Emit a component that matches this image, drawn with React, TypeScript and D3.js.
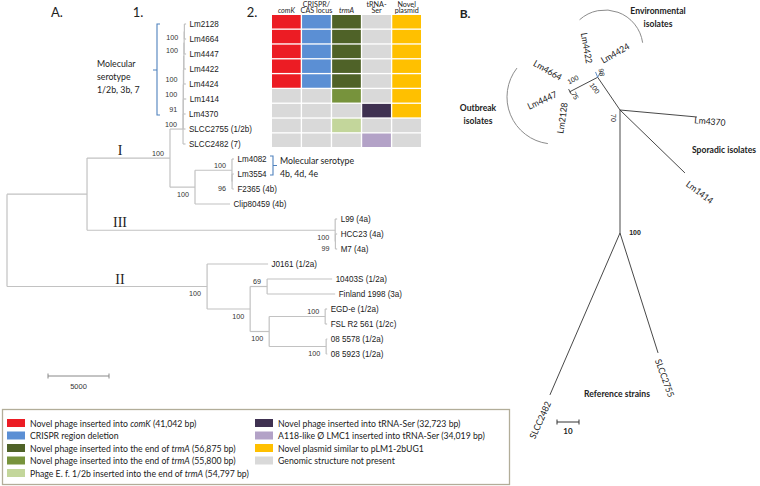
import React from "react";
import * as d3 from "d3";

const FONT_A = "'Liberation Sans', Arial, sans-serif";
const FONT_C = "Lato, 'Open Sans', sans-serif";
const FONT_S = "'Liberation Serif', 'DejaVu Serif', serif";

// ---------------- Panel A: tree [node, parent, branch length, bootstrap] ----------------
const treeNodes: [string, string, number, number | null][] = [
  ["root", "", 0, null],
  ["I_III", "root", 6560, null],
  ["I", "I_III", 6800, 100],
  ["n8", "I", 1070, 100],
  ["n7", "n8", 10, 91],
  ["n6", "n7", 10, 100],
  ["n5", "n6", 10, 100],
  ["n4", "n5", 20, null],
  ["n3", "n4", 20, 100],
  ["n2", "n3", 20, 100],
  ["n1", "n2", 20, null],
  ["Lm2128", "n1", 140, null],
  ["Lm4664", "n1", 140, null],
  ["Lm4447", "n2", 160, null],
  ["Lm4422", "n3", 170, null],
  ["Lm4424", "n4", 180, null],
  ["Lm1414", "n5", 230, null],
  ["Lm4370", "n6", 190, null],
  ["SLCC2755 (1/2b)", "n7", 190, null],
  ["SLCC2482 (7)", "n8", 200, null],
  ["m", "I", 2050, 100],
  ["m1", "m", 3030, 100],
  ["Lm4082", "m1", 160, null],
  ["m2", "m1", 10, 96],
  ["Lm3554", "m2", 150, null],
  ["F2365 (4b)", "m2", 150, null],
  ["Clip80459 (4b)", "m", 2870, null],
  ["III", "I_III", 20340, 100],
  ["L99 (4a)", "III", 160, null],
  ["m3", "III", 20, 99],
  ["HCC23 (4a)", "m3", 140, null],
  ["M7 (4a)", "m3", 140, null],
  ["II", "root", 16400, 100],
  ["J0161 (1/2a)", "II", 5000, null],
  ["p", "II", 3530, 100],
  ["p1", "p", 1390, 69],
  ["10403S (1/2a)", "p1", 5330, null],
  ["Finland 1998 (3a)", "p1", 5580, null],
  ["p2", "p", 1560, 100],
  ["p21", "p2", 4590, 100],
  ["EGD-e (1/2a)", "p21", 160, null],
  ["FSL R2 561 (1/2c)", "p21", 160, null],
  ["p22", "p2", 4670, 100],
  ["08 5578 (1/2a)", "p22", 100, null],
  ["08 5923 (1/2a)", "p22", 100, null],
];
const cladeNames = ["I", "III", "II"];
const scaleBarA = 5000;

// ---------------- Heatmap ----------------
const heatRows = ["Lm2128", "Lm4664", "Lm4447", "Lm4422", "Lm4424", "Lm1414", "Lm4370", "SLCC2755", "SLCC2482"];
const heatCols = ["comK", "CRISPR", "trmA", "tRNA", "plasmid"];
const heatHeaders: [string, string][] = [["", "comK"], ["CRISPR/", "CAS locus"], ["", "trmA"], ["tRNA-", "Ser"], ["Novel", "plasmid"]];
const heatItalic = [true, false, true, false, false];
const heatCells: string[][] = [
  ["comK", "crispr", "trmA56875", "none", "plasmid"],
  ["comK", "crispr", "trmA56875", "none", "plasmid"],
  ["comK", "crispr", "trmA56875", "none", "plasmid"],
  ["comK", "crispr", "trmA56875", "none", "plasmid"],
  ["comK", "crispr", "trmA56875", "none", "plasmid"],
  ["none", "none", "trmA55800", "none", "plasmid"],
  ["none", "none", "none", "tRNA32723", "plasmid"],
  ["none", "none", "trmA54797", "none", "none"],
  ["none", "none", "none", "tRNA34019", "none"],
];

// ---------------- Legend ----------------
const legendKeys = ["comK", "crispr", "trmA56875", "trmA55800", "trmA54797", "tRNA32723", "tRNA34019", "plasmid", "none"];
const legendLabels: [string, boolean][][] = [
  [["Novel phage inserted into ", false], ["comK", true], [" (41,042 bp)", false]],
  [["CRISPR region deletion", false]],
  [["Novel phage inserted into the end of ", false], ["trmA", true], [" (56,875 bp)", false]],
  [["Novel phage inserted into the end of ", false], ["trmA", true], [" (55,800 bp)", false]],
  [["Phage E. f. 1/2b inserted into the end of ", false], ["trmA", true], [" (54,797 bp)", false]],
  [["Novel phage inserted into tRNA-Ser (32,723 bp)", false]],
  [["A118-like Ø LMC1 inserted into tRNA-Ser (34,019 bp)", false]],
  [["Novel plasmid similar to pLM1-2bUG1", false]],
  [["Genomic structure not present", false]],
];
const palette = ["#ec1c24", "#5b8fd4", "#4f6228", "#77933c", "#c3d69b", "#3f3151", "#b3a2c7", "#ffc000", "#d9d9d9"];

// ---------------- Panel B: unrooted tree [node, parent, length, angle°] ----------------
const bTree: [string, string, number, number][] = [
  ["C1", "", 0, 0],
  ["C2", "C1", 55.9, 90],
  ["SLCC2482", "C2", 80.2, 113.4],
  ["SLCC2755", "C2", 57.2, 72.4],
  ["Lm4370", "C1", 35.1, 5.2],
  ["Lm1414", "C1", 41.1, 44.1],
  ["C3", "C1", 18, -124.3],
  ["C4", "C3", 14.2, 152.6],
  ["Lm4422", "C3", 2.6, -112],
  ["Lm4424", "C3", 2.6, -62],
  ["Lm4664", "C4", 1.3, 242],
  ["Lm2128", "C4", 1.3, 62],
  ["Lm4447", "C4", 0.3, 152],
];
const bSupport: [string, string][] = [["C4", "100"], ["C4", "75"], ["C3", "98"], ["C3", "100"], ["C1", "70"], ["C2", "100"]];
const bGroups: string[][] = [["Environmental", "isolates"], ["Outbreak", "isolates"], ["Sporadic isolates"], ["Reference strains"]];
const scaleBarB = 10;

// ---------------- layout (positions only) ----------------
const bOrigin = [620, 110];
const bLeafLabelPos: Record<string, [number, number, number]> = {
  Lm4422: [-8.6, -24, 80], Lm4424: [14.6, -19.3, -30], Lm4664: [-20.7, -19.2, 30], Lm4447: [-27.4, 8, -25],
  Lm2128: [-9.3, 23.8, -82], Lm4370: [13, 4, 5], Lm1414: [15, 19, 37], SLCC2482: [-10, 25, -66], SLCC2755: [7, 25, 70],
};
const bSupportPos: [number, number, number, boolean][] = [[3, -12, -27, false], [5, 4, 62, false], [4, -5, 80, false], [-3, 11, 55, false], [-7, 8, 90, false], [15, 0, 0, true]];
const bGroupPos: [number, number][] = [[658, 14], [478, 111], [724, 153], [617, 397]];
const bArcs = [
  { cx: 605, cy: 48, r: 38, a0: -132, a1: -8 },
  { cx: 554, cy: 97, r: 47, a0: 97.5, a1: 218 },
];

const Txt = ({ x, y, children, size = 9, family = FONT_A, anchor = "start", sx = 1, rot = 0, weight = "normal", italic = false, fill = "#222", baseline }: any) => (
  <text
    transform={`translate(${x},${y}) rotate(${rot}) scale(${sx},1)`}
    fontSize={size}
    fontFamily={family}
    textAnchor={anchor}
    fontWeight={weight}
    fontStyle={italic ? "italic" : "normal"}
    fill={fill}
    dominantBaseline={baseline}
  >
    {children}
  </text>
);

export default function App() {
  // ---- Panel A tree layout
  const root: any = d3
    .stratify<any>()
    .id((d: any) => d[0])
    .parentId((d: any) => (d[1] === "" ? null : d[1]))(treeNodes);
  const xA = d3.scaleLinear().domain([0, scaleBarA]).range([7, 68]);
  const leaves = root.leaves();
  const yA = d3.scaleLinear().domain([0, leaves.length - 1]).range([24, 354]);
  root.eachBefore((n: any) => {
    n.dist = n.parent ? n.parent.dist + n.data[2] : 0;
    n.px = xA(n.dist);
  });
  leaves.forEach((l: any, i: number) => (l.py = yA(i)));
  root.eachAfter((n: any) => {
    if (n.children) n.py = (n.children[0].py + n.children[n.children.length - 1].py) / 2;
  });
  const nodes: any[] = root.descendants();
  const treeStroke = "#c2c2c2";

  // ---- heatmap scales
  const hx = d3.scaleBand().domain(heatCols).range([272, 421]).paddingInner(0.045);
  const hy = d3.scaleBand().domain(heatRows).range([15, 147]).paddingInner(0.09);
  const color = d3.scaleOrdinal<string, string>().domain(legendKeys).range(palette);

  // ---- legend
  const ly = d3.scaleLinear().domain([0, 4]).range([423, 473]);

  // ---- Panel B
  const bs = d3.scaleLinear().domain([0, scaleBarB]).range([0, 22]);
  const bPos: Record<string, [number, number]> = {};
  bTree.forEach(([id, parent, len, ang]) => {
    if (!parent) bPos[id] = [bOrigin[0], bOrigin[1]];
    else {
      const [px, py] = bPos[parent];
      const a = (ang * Math.PI) / 180;
      bPos[id] = [px + bs(len) * Math.cos(a), py + bs(len) * Math.sin(a)];
    }
  });

  return (
    <div style={{ position: "absolute", left: 0, top: 0 }}>
      <svg width={760} height={486} style={{ display: "block", background: "#fff" }}>
        <rect width={760} height={486} fill="#fff" />
        {/* Panel titles */}
        <Txt x={57} y={17} size={13} family={FONT_C} anchor="middle">A.</Txt>
        <Txt x={138} y={17} size={13} family={FONT_C} anchor="middle">1.</Txt>
        <Txt x={252} y={17} size={13} family={FONT_C} anchor="middle">2.</Txt>
        <Txt x={465} y={18} size={12} family={FONT_C} anchor="middle" weight="bold">B.</Txt>

        {/* Tree A branches */}
        <g stroke={treeStroke} strokeWidth={1.2} fill="none">
          {nodes.filter((n) => n.parent).map((n, i) => (
            <line key={"h" + i} x1={n.parent.px} x2={n.px} y1={n.py} y2={n.py} />
          ))}
          {nodes.filter((n) => n.children).map((n, i) => (
            <line key={"v" + i} x1={n.px} x2={n.px} y1={n.children[0].py} y2={n.children[n.children.length - 1].py} />
          ))}
        </g>
        {/* leaf labels */}
        {leaves.map((l: any, i: number) => (
          <Txt key={"l" + i} x={l.px + 3.5} y={l.py + 3.2} size={8.8} sx={0.92} fill="#1a1a1a">{l.id}</Txt>
        ))}
        {/* bootstrap */}
        {nodes.filter((n) => n.data[3] != null).map((n, i) => {
          const first = n.parent.children[0] === n;
          return (
            <Txt key={"b" + i} x={n.px - 6} y={first ? n.py - 2.5 : n.py + 9.5} size={7.2} anchor="end" fill="#333">
              {n.data[3]}
            </Txt>
          );
        })}
        {/* clade labels */}
        {nodes.filter((n) => cladeNames.includes(n.id)).map((n, i) => (
          <Txt key={"c" + i} x={120} y={n.py - 3} size={14} family={FONT_S} anchor="middle" fill="#222">{n.id}</Txt>
        ))}
        {/* scale bar A */}
        <g stroke="#888" strokeWidth={1}>
          <line x1={xA(0) + 41} x2={xA(scaleBarA) + 41} y1={376} y2={376} />
          <line x1={xA(0) + 41} x2={xA(0) + 41} y1={373.5} y2={378.5} />
          <line x1={xA(scaleBarA) + 41} x2={xA(scaleBarA) + 41} y1={373.5} y2={378.5} />
        </g>
        <Txt x={(xA(0) + xA(scaleBarA)) / 2 + 41} y={389} size={7.5} anchor="middle" fill="#333">{scaleBarA}</Txt>

        {/* brackets */}
        <g stroke="#4f81bd" strokeWidth={1.1} fill="none">
          <path d="M160,24 H157 V115 H160 M157,70 H153" />
          <path d="M270,156 H273 V175 H270 M273,165.5 H277" />
        </g>
        <Txt x={97} y={67} size={10} family={FONT_C} sx={0.88}>Molecular</Txt>
        <Txt x={97} y={80} size={10} family={FONT_C} sx={0.88}>serotype</Txt>
        <Txt x={97} y={93} size={10} family={FONT_C} sx={0.88}>1/2b, 3b, 7</Txt>
        <Txt x={280} y={164} size={10} family={FONT_C} sx={0.88}>Molecular serotype</Txt>
        <Txt x={280} y={177} size={10} family={FONT_C} sx={0.88}>4b, 4d, 4e</Txt>

        {/* Heatmap */}
        {heatCells.map((row, ri) =>
          row.map((v, ci) => (
            <rect key={`h${ri}-${ci}`} x={hx(heatCols[ci])} y={hy(heatRows[ri])} width={hx.bandwidth()} height={hy.bandwidth()} fill={color(v)} />
          ))
        )}
        {heatHeaders.map(([a, b], ci) => {
          const cx = (hx(heatCols[ci]) as number) + hx.bandwidth() / 2;
          return (
            <g key={"hh" + ci}>
              {a && <Txt x={cx} y={6.6} size={7.8} family={FONT_C} anchor="middle" sx={0.92}>{a}</Txt>}
              <Txt x={cx} y={13.2} size={7.8} family={FONT_C} anchor="middle" sx={0.92} italic={heatItalic[ci]}>{b}</Txt>
            </g>
          );
        })}

        {/* Legend */}
        <rect x={2.5} y={409.5} width={507} height={75} fill="#fff" stroke="#b2ad99" strokeWidth={1.3} />
        {legendKeys.map((k, i) => {
          const col = i < 5 ? 0 : 1;
          const row = i < 5 ? i : i - 5;
          const x0 = col === 0 ? 7 : 255;
          const y0 = ly(row);
          return (
            <g key={"lg" + i}>
              <rect x={x0} y={y0 - 4} width={18} height={8} fill={color(k)} />
              <text transform={`translate(${x0 + 23},${y0 + 3.6}) scale(0.87,1)`} fontSize={10} fontFamily={FONT_C} fill="#222">
                {legendLabels[i].map(([s, it], j) => (
                  <tspan key={j} fontStyle={it ? "italic" : "normal"}>{s}</tspan>
                ))}
              </text>
            </g>
          );
        })}

        {/* Panel B arcs */}
        {bArcs.map((a, i) => {
          const p = d3.path();
          p.arc(a.cx, a.cy, a.r, (a.a0 * Math.PI) / 180, (a.a1 * Math.PI) / 180);
          return <path key={"arc" + i} d={p.toString()} fill="none" stroke="#8c8c8c" strokeWidth={1} />;
        })}
        {/* Panel B branches */}
        <g strokeWidth={0.9} fill="none">
          {bTree.filter((d) => d[1]).map(([id, parent], i) => (
            <line
              key={"be" + i}
              x1={bPos[parent][0]}
              y1={bPos[parent][1]}
              x2={bPos[id][0]}
              y2={bPos[id][1]}
              stroke={id === "Lm4422" || id === "Lm4424" ? "#4f81bd" : "#333"}
            />
          ))}
        </g>
        {Object.keys(bLeafLabelPos).map((id) => {
          const [dx, dy, r] = bLeafLabelPos[id];
          return (
            <Txt key={"bl" + id} x={bPos[id][0] + dx} y={bPos[id][1] + dy} rot={r} size={9} family={FONT_C} anchor="middle" baseline="central" sx={0.95}>
              {id}
            </Txt>
          );
        })}
        {bSupport.map(([node, v], i) => {
          const [dx, dy, r, bold] = bSupportPos[i];
          return (
            <Txt key={"bs" + i} x={bPos[node][0] + dx} y={bPos[node][1] + dy} rot={r} size={7} anchor="middle" baseline="central" weight={bold ? "bold" : "normal"}>
              {v}
            </Txt>
          );
        })}
        {bGroups.map((lines, i) =>
          lines.map((s, j) => (
            <Txt key={`bg${i}-${j}`} x={bGroupPos[i][0]} y={bGroupPos[i][1] + j * 12.5} size={10} family={FONT_C} anchor="middle" weight="bold" sx={0.86}>
              {s}
            </Txt>
          ))
        )}
        {/* scale bar B */}
        <g stroke="#333" strokeWidth={1}>
          <line x1={557} x2={557 + bs(scaleBarB)} y1={422} y2={422} />
          <line x1={557} x2={557} y1={419.5} y2={424.5} />
          <line x1={557 + bs(scaleBarB)} x2={557 + bs(scaleBarB)} y1={419.5} y2={424.5} />
        </g>
        <Txt x={557 + bs(scaleBarB) / 2} y={434} size={8} anchor="middle" weight="bold" family={FONT_C}>{scaleBarB}</Txt>
      </svg>
    </div>
  );
}
